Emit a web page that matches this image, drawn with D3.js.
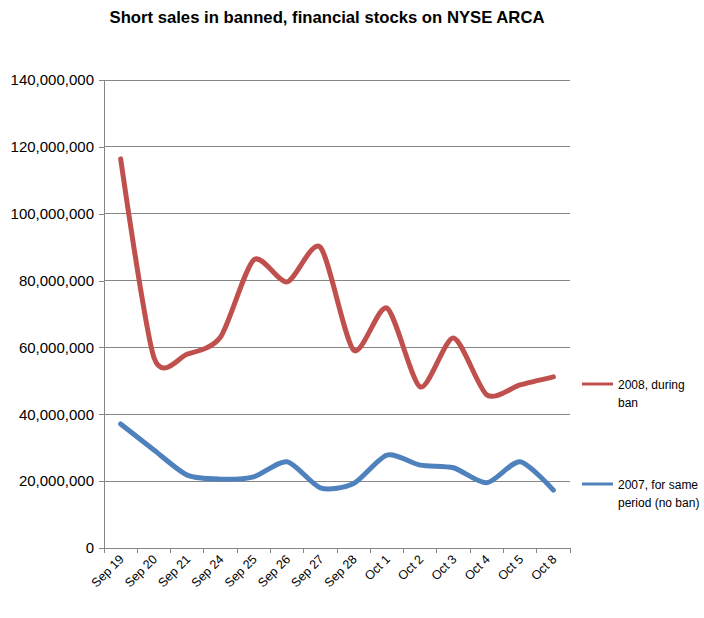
<!DOCTYPE html>
<html><head><meta charset="utf-8">
<script src="https://cdn.jsdelivr.net/npm/d3@7"></script>
<style>body{margin:0;background:#fff;} text{font-family:"Liberation Sans",Arial,sans-serif;fill:#000;}</style>
</head><body>
<svg id="c" width="704" height="618"></svg>
<script>
const categories = ["Sep 19","Sep 20","Sep 21","Sep 24","Sep 25","Sep 26","Sep 27","Sep 28","Oct 1","Oct 2","Oct 3","Oct 4","Oct 5","Oct 8"];
const series2008 = [116400000,57000000,58000000,63100000,86200000,79600000,90000000,59200000,71800000,48200000,62800000,45800000,48800000,51200000];
const series2007 = [37100000,29300000,21800000,20600000,21300000,25800000,18000000,19300000,27800000,24800000,24000000,19500000,25800000,17300000];
const yTicks = [0,20000000,40000000,60000000,80000000,100000000,120000000,140000000];
const seriesNames = [["2008, during","ban"],["2007, for same","period (no ban)"]];
const colors = ["#C0504D","#4F81BD"];
const title = "Short sales in banned, financial stocks on NYSE ARCA";

const svg = d3.select("#c");
const L = 104, R = 570, T = 80, B = 548;
const x = d3.scaleBand().domain(categories).range([L, R]);
const y = d3.scaleLinear().domain([0, 140000000]).range([B, T]);

// title
svg.append("text").attr("x", 327).attr("y", 23).attr("text-anchor", "middle")
  .attr("font-size", 17).attr("font-weight", "bold").attr("textLength", 435).attr("lengthAdjust","spacingAndGlyphs").text(title);

// gridlines
svg.append("g").selectAll("line").data(yTicks.slice(1)).join("line")
  .attr("x1", L).attr("x2", R).attr("y1", d => y(d)).attr("y2", d => y(d))
  .attr("stroke", "#868686").attr("stroke-width", 1).attr("shape-rendering","crispEdges");

// y axis
const fmt = d3.format(",");
const yAxis = d3.axisLeft(y).tickValues(yTicks).tickFormat(fmt).tickSize(5).tickPadding(5);
const gy = svg.append("g").attr("transform", `translate(${L},0)`).call(yAxis);
gy.select(".domain").attr("stroke", "#868686").attr("shape-rendering","crispEdges");
gy.selectAll(".tick line").attr("stroke", "#868686").attr("shape-rendering","crispEdges");
gy.selectAll("text").attr("font-size", 15).attr("font-family", "Liberation Sans, Arial, sans-serif").attr("fill","#000");

// x axis
const gx = svg.append("g").attr("transform", `translate(0,${B})`);
gx.append("line").attr("x1", L).attr("x2", R).attr("y1", 0).attr("y2", 0).attr("stroke", "#868686").attr("shape-rendering","crispEdges");
const bounds = categories.map(c => x(c)).concat([R]);
gx.selectAll("line.tk").data(bounds).join("line").attr("class","tk")
  .attr("x1", d => d).attr("x2", d => d).attr("y1", 0).attr("y2", 5).attr("stroke", "#868686").attr("shape-rendering","crispEdges");
gx.selectAll("text").data(categories).join("text")
  .attr("transform", d => `translate(${x(d) + x.bandwidth()/2 + 4},${12}) rotate(-45)`)
  .attr("text-anchor", "end").attr("font-size", 12.5).text(d => d);

// lines
const line = d3.line().x((d, i) => x(categories[i]) + x.bandwidth()/2).y(d => y(d)).curve(d3.curveCardinal.tension(0.25));
[series2008, series2007].forEach((s, k) => {
  svg.append("path").datum(s).attr("d", line).attr("fill", "none")
    .attr("stroke", colors[k]).attr("stroke-width", 5).attr("stroke-linecap", "round").attr("stroke-linejoin","round");
});

// legend
const legY = [384, 484];
seriesNames.forEach((n, k) => {
  const g = svg.append("g");
  g.append("line").attr("x1", 582).attr("x2", 613).attr("y1", legY[k]).attr("y2", legY[k]).attr("stroke", colors[k]).attr("stroke-width", 3);
  n.forEach((t, j) => g.append("text").attr("x", 618).attr("y", legY[k] + 5 + j*18).attr("font-size", 12).text(t));
});
</script>
</body></html>
